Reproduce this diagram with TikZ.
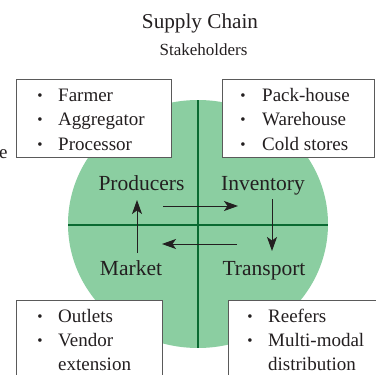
\documentclass[tikz,border=0pt]{standalone}
\usepackage{fontspec}
\setmainfont{Liberation Serif}
\usetikzlibrary{arrows.meta}
\definecolor{circfill}{HTML}{8BCEA1}
\definecolor{axisgreen}{HTML}{0A6A32}
\definecolor{boxline}{HTML}{5A5A5A}
\definecolor{ink}{HTML}{231F20}
\tikzset{
  listbox/.style={draw=boxline, line width=1pt, fill=white},
  item/.style={anchor=base west, inner sep=0pt, text=ink, font=\fontsize{19}{22}\selectfont},
  dot/.style={anchor=base, inner sep=0pt, text=ink, font=\fontsize{15}{18}\selectfont},
  quad/.style={anchor=base, inner sep=0pt, text=ink, font=\fontsize{21.5}{24}\selectfont},
  flow/.style={draw=ink, line width=0.9pt, -{Stealth[length=14pt,width=10pt,inset=3.5pt]}},
  axis/.style={draw=axisgreen, line width=2pt}
}
\begin{document}
\begin{tikzpicture}[x=1pt,y=-1pt]
\useasboundingbox (0,0) rectangle (376,375);
\clip (0,0) rectangle (376,375);
% title
\node[anchor=base, inner sep=0pt, text=ink, font=\fontsize{21.2}{24}\selectfont] (title) at (200,28) {Supply Chain};
\node[anchor=base, inner sep=0pt, text=ink, font=\fontsize{17}{20}\selectfont] (sub) at (203.5,55) {Stakeholders};
% circle
\path[fill=circfill] (198,224) ellipse [x radius=130, y radius=124];
\coordinate (vt) at (198,100);
\coordinate (vb) at (198,348);
\coordinate (hl) at (68,225);
\coordinate (hr) at (328,225);
\draw[axis] (vt) -- (vb);
\draw[axis] (hl) -- (hr);
% boxes
\draw[listbox] (17,79) rectangle (171,157);
\draw[listbox] (222,79) rectangle (374,157);
\draw[listbox] (17,300) rectangle (162,390);
\draw[listbox] (228,300) rectangle (390,390);
% left cut text
\node[item] (cut) at (-1,158) {e};
% top-left list
\node[dot] (b1) at (40,100) {\textbullet};
\node[dot] (b2) at (40,124.5) {\textbullet};
\node[dot] (b3) at (40,149) {\textbullet};
\node[item] (t1) at (58,101) {Farmer};
\node[item] (t2) at (58,125.5) {Aggregator};
\node[item] (t3) at (58,150) {Processor};
% top-right list
\node[dot] (b4) at (243,100) {\textbullet};
\node[dot] (b5) at (243,124.5) {\textbullet};
\node[dot] (b6) at (243,149) {\textbullet};
\node[item] (t4) at (262,101) {Pack-house};
\node[item] (t5) at (262,125.5) {Warehouse};
\node[item] (t6) at (262,150) {Cold stores};
% bottom-left list
\node[dot] (b7) at (40,321) {\textbullet};
\node[dot] (b8) at (40,345.3) {\textbullet};
\node[item] (t7) at (58,322) {Outlets};
\node[item] (t8) at (58,346.3) {Vendor};
\node[item] (t9) at (58,370.6) {extension};
% bottom-right list
\node[dot] (b9) at (250,321) {\textbullet};
\node[dot] (b10) at (250,345.3) {\textbullet};
\node[item] (t10) at (268,322) {Reefers};
\node[item] (t11) at (268,346.3) {Multi-modal};
\node[item] (t12) at (268,370.6) {distribution};
% quadrant labels
\node[quad] (prod) at (141.5,190) {Producers};
\node[quad] (inv) at (263,190) {Inventory};
\node[quad] (mkt) at (131,275) {Market};
\node[quad] (trn) at (264,275) {Transport};
% flow arrows
\coordinate (a1s) at (163,206);
\coordinate (a1e) at (238,206);
\coordinate (a2s) at (272,199);
\coordinate (a2e) at (272,251);
\coordinate (a3s) at (237,244);
\coordinate (a3e) at (162,244);
\coordinate (a4s) at (137,253);
\coordinate (a4e) at (137,200);
\draw[flow] (a1s) -- (a1e);
\draw[flow] (a2s) -- (a2e);
\draw[flow] (a3s) -- (a3e);
\draw[flow] (a4s) -- (a4e);
\end{tikzpicture}
\end{document}
